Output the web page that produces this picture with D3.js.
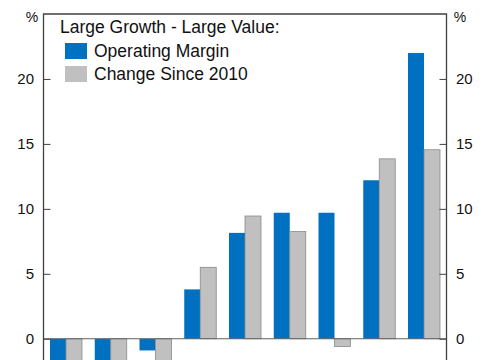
<!DOCTYPE html>
<html>
<head>
<meta charset="utf-8">
<script src="https://cdn.jsdelivr.net/npm/d3@7"></script>
<style>
  html, body { margin: 0; padding: 0; background: #fff; }
  svg { display: block; font-family: "Liberation Sans", Arial, sans-serif; }
</style>
</head>
<body>
<svg id="chart" width="485" height="360"></svg>
<script>
const categories = ["C1", "C2", "C3", "C4", "C5", "C6", "C7", "C8", "C9"];
const operatingMargin = [-3.5, -3.0, -0.9, 3.8, 8.15, 9.7, 9.7, 12.2, 22.0];
const changeSince2010 = [-3.0, -2.5, -2.5, 5.5, 9.45, 8.25, -0.6, 13.85, 14.55];
const tickValues = [0, 5, 10, 15, 20];
const legendTitle = "Large Growth - Large Value:";
const seriesNames = ["Operating Margin", "Change Since 2010"];
const colors = ["#0070C0", "#C0C0C0"];

(function () {
const svg = d3.select("#chart");
const W = 485, H = 360;
const mLeft = 43.5, mRight = 446.5, mTop = 14;

const y = d3.scaleLinear().domain([-5, 25]).range([338.7 + 65, mTop]);
const x = d3.scaleBand().domain(categories).range([mLeft, mRight]).paddingInner(0.285).paddingOuter(0.145);
const xs = d3.scaleBand().domain([0, 1]).range([0, x.bandwidth()]);

const series = [operatingMargin, changeSince2010];
series.forEach((vals, si) => {
  svg.append("g").selectAll("rect").data(vals).join("rect")
    .attr("x", (d, i) => x(categories[i]) + xs(si))
    .attr("width", xs.bandwidth())
    .attr("y", d => y(Math.max(0, d)))
    .attr("height", d => Math.abs(y(d) - y(0)))
    .attr("fill", colors[si])
    .attr("stroke", si === 1 ? "#8a8a8a" : "none")
    .attr("stroke-width", si === 1 ? 0.8 : 0);
});

svg.append("line").attr("x1", mLeft).attr("x2", mRight)
  .attr("y1", y(0)).attr("y2", y(0)).attr("stroke", "#606060").attr("stroke-width", 1);

svg.append("path")
  .attr("d", `M${mLeft},${H + 5}V${mTop}H${mRight}V${H + 5}`)
  .attr("fill", "none").attr("stroke", "#404040").attr("stroke-width", 1.3);

const leftAxis = d3.axisRight(y).tickValues(tickValues).tickSize(7).tickFormat("");
svg.append("g").attr("transform", `translate(${mLeft},0)`).call(leftAxis)
  .call(g => g.select(".domain").remove())
  .call(g => g.selectAll("line").attr("stroke", "#404040"));
const rightAxis = d3.axisLeft(y).tickValues(tickValues).tickSize(7).tickFormat("");
svg.append("g").attr("transform", `translate(${mRight},0)`).call(rightAxis)
  .call(g => g.select(".domain").remove())
  .call(g => g.selectAll("line").attr("stroke", "#404040"));

svg.append("g").selectAll("text").data(tickValues).join("text")
  .attr("x", 34).attr("y", d => y(d)).attr("dy", "0.35em")
  .attr("text-anchor", "end").attr("font-size", 15).attr("fill", "#111")
  .text(d => d);
svg.append("g").selectAll("text").data(tickValues).join("text")
  .attr("x", 456).attr("y", d => y(d)).attr("dy", "0.35em")
  .attr("text-anchor", "start").attr("font-size", 15).attr("fill", "#111")
  .text(d => d);

svg.append("text").attr("x", 32).attr("y", 22).attr("text-anchor", "middle")
  .attr("font-size", 14).attr("fill", "#111").text("%");
svg.append("text").attr("x", 460).attr("y", 22).attr("text-anchor", "middle")
  .attr("font-size", 14).attr("fill", "#111").text("%");

svg.append("text").attr("x", 60).attr("y", 33).attr("font-size", 17.5).attr("fill", "#111").text(legendTitle);
seriesNames.forEach((name, i) => {
  const yy = 43 + i * 23;
  svg.append("rect").attr("x", 65).attr("y", yy).attr("width", 22).attr("height", 16).attr("fill", colors[i]);
  svg.append("text").attr("x", 94).attr("y", yy + 14).attr("font-size", 17.5).attr("fill", "#111").text(name);
});
})();
</script>
</body>
</html>
